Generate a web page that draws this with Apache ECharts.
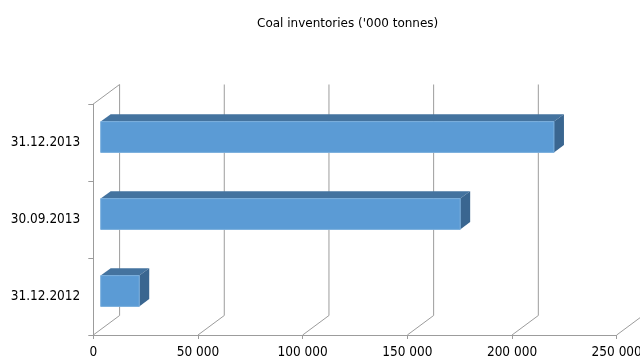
<!DOCTYPE html>
<html>
<head>
<meta charset="utf-8">
<script src="https://cdn.jsdelivr.net/npm/echarts@6/dist/echarts.min.js"></script>
<style>
  html, body { margin: 0; padding: 0; background: #fff; }
  #chart { width: 640px; height: 358px; }
</style>
</head>
<body>
<div id="chart"></div>
<script>
// Reporting dates (bottom to top) and coal inventories, thousand tonnes
const categories = ['31.12.2012', '30.09.2013', '31.12.2013'];
const inventories = [18400, 171700, 216500];
const axisTicks = [0, 50000, 100000, 150000, 200000, 250000];

const FONT = '"DejaVu Sans Condensed", "DejaVu Sans", sans-serif';
const TITLE_FONT = '"DejaVu Sans", sans-serif';
const LINE = '#9c9c9c';

// Pseudo-3D depth: back wall offset and the depth slice that bars occupy
const WALL_DX = 26.3, WALL_DY = -19.5;
const SLOPE = -WALL_DY / WALL_DX;
const BAR_NEAR = 7.4, BAR_FAR = 17.4;

function spaced(v) {
  return String(v).replace(/\B(?=(\d{3})+(?!\d))/g, ' ');
}

// Back wall gridlines and floor diagonals, one per axis tick
function renderFrame(params, api) {
  const cs = params.coordSys;
  const x = api.coord([api.value(0), 0])[0];
  const top = cs.y, bottom = cs.y + cs.height;
  const style = { stroke: LINE, lineWidth: 1, fill: null };
  const children = [
    { type: 'line', shape: { x1: x + WALL_DX, y1: top + WALL_DY, x2: x + WALL_DX, y2: bottom + WALL_DY }, style },
    { type: 'line', shape: { x1: x, y1: bottom, x2: x + WALL_DX, y2: bottom + WALL_DY }, style }
  ];
  if (api.value(0) === 0) {
    children.push({ type: 'line', shape: { x1: x, y1: top, x2: x + WALL_DX, y2: top + WALL_DY }, style });
  }
  return { type: 'group', children };
}

// Box-shaped bar: front face, top face and right end face
function renderBar(params, api) {
  const v = api.value(0), i = api.value(1);
  const start = api.coord([0, i]);
  const end = api.coord([v, i]);
  const band = api.size([0, 1])[1];
  const h = band * 0.4;
  const x0 = start[0] + BAR_NEAR, x1 = end[0] + BAR_NEAR;
  const yc = start[1] - BAR_NEAR * SLOPE;
  const yt = yc - h / 2, yb = yc + h / 2;
  const dx = BAR_FAR - BAR_NEAR, dy = -dx * SLOPE;
  return {
    type: 'group',
    children: [
      { type: 'polygon', shape: { points: [[x0, yt], [x1, yt], [x1 + dx, yt + dy], [x0 + dx, yt + dy]] },
        style: { fill: '#44739f' } },
      { type: 'polygon', shape: { points: [[x1, yt], [x1 + dx, yt + dy], [x1 + dx, yb + dy], [x1, yb]] },
        style: { fill: '#3a6690' } },
      { type: 'rect', shape: { x: x0, y: yt, width: x1 - x0, height: h },
        style: { fill: '#5b9bd5', stroke: '#79aedd', lineWidth: 1 } }
    ]
  };
}

const chart = echarts.init(document.getElementById('chart'), null, { renderer: 'canvas' });
chart.setOption({
  backgroundColor: '#ffffff',
  animation: false,
  title: {
    text: "Coal inventories ('000 tonnes)",
    left: 252,
    top: 13,
    textStyle: { fontFamily: TITLE_FONT, fontSize: 12, fontWeight: 'normal', color: '#000' }
  },
  grid: {
    left: 93.3, top: 104, width: 523.4, height: 231,
    containLabel: false,
    outerBoundsMode: 'none'
  },
  xAxis: {
    type: 'value',
    min: 0,
    max: 250000,
    interval: 50000,
    axisLine: { show: true, lineStyle: { color: LINE } },
    axisTick: { show: true, length: 4, lineStyle: { color: LINE } },
    splitLine: { show: false },
    axisLabel: { formatter: spaced, color: '#000', fontFamily: FONT, fontSize: 13.5, margin: 10 }
  },
  yAxis: {
    type: 'category',
    data: categories,
    axisLine: { show: true, lineStyle: { color: LINE } },
    axisTick: { show: true, length: 5, lineStyle: { color: LINE } },
    splitLine: { show: false },
    axisLabel: { color: '#000', fontFamily: FONT, fontSize: 13.5, margin: 13 }
  },
  series: [
    {
      type: 'custom',
      name: 'frame',
      silent: true,
      clip: false,
      z: 1,
      renderItem: renderFrame,
      data: axisTicks.map(t => [t, 0])
    },
    {
      type: 'custom',
      name: 'Coal inventories',
      silent: true,
      clip: false,
      z: 2,
      renderItem: renderBar,
      encode: { x: 0, y: 1 },
      data: inventories.map((v, i) => [v, i])
    }
  ]
});
</script>
</body>
</html>
